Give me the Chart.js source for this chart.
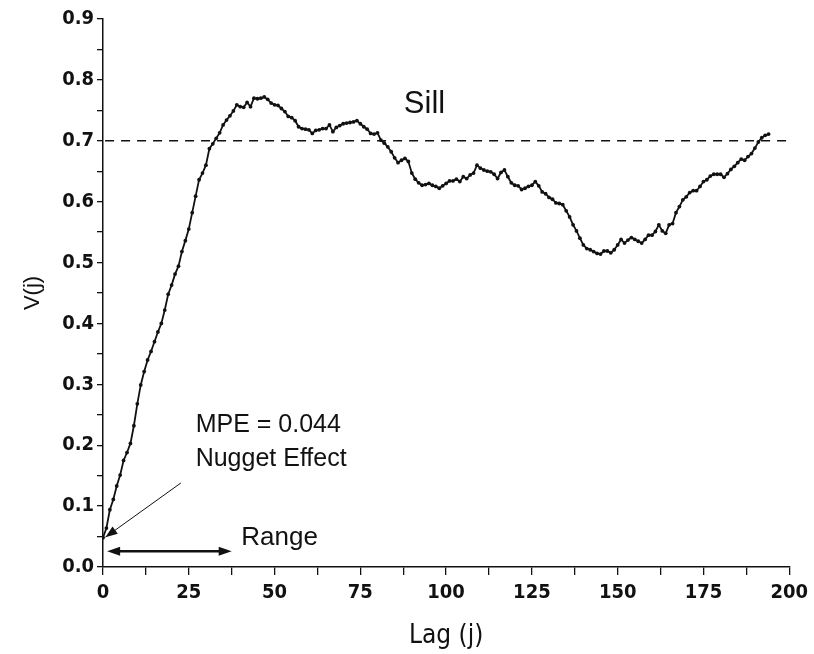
<!DOCTYPE html>
<html>
<head>
<meta charset="utf-8">
<script src="https://cdn.jsdelivr.net/npm/chart.js@4"></script>
<style>
  body { margin: 0; background: #fff; }
  #wrap { width: 814px; height: 654px; }
</style>
</head>
<body>
<div id="wrap"><canvas id="vario" width="814" height="654"></canvas></div>
<script>
// variogram V(j), one value per lag j = 0, 1, 2, ...
const variogram = [
  0.048, 0.064, 0.094, 0.111, 0.133, 0.151, 0.175, 0.188, 0.203, 0.232,
  0.268, 0.299, 0.321, 0.340, 0.354, 0.370, 0.386, 0.400, 0.422, 0.448,
  0.463, 0.481, 0.494, 0.518, 0.536, 0.555, 0.582, 0.609, 0.636, 0.647,
  0.660, 0.687, 0.695, 0.704, 0.713, 0.726, 0.734, 0.741, 0.749, 0.759,
  0.756, 0.755, 0.763, 0.756, 0.770, 0.769, 0.770, 0.772, 0.768, 0.762,
  0.759, 0.758, 0.753, 0.748, 0.740, 0.738, 0.733, 0.723, 0.720, 0.719,
  0.718, 0.712, 0.717, 0.718, 0.720, 0.720, 0.726, 0.715, 0.722, 0.725,
  0.728, 0.729, 0.730, 0.731, 0.733, 0.728, 0.723, 0.719, 0.712, 0.711,
  0.713, 0.701, 0.696, 0.690, 0.682, 0.672, 0.664, 0.668, 0.671, 0.666,
  0.647, 0.637, 0.631, 0.627, 0.628, 0.630, 0.627, 0.625, 0.622, 0.626,
  0.630, 0.634, 0.634, 0.637, 0.633, 0.641, 0.638, 0.644, 0.647, 0.660,
  0.655, 0.652, 0.650, 0.649, 0.645, 0.638, 0.648, 0.652, 0.641, 0.631,
  0.627, 0.626, 0.620, 0.622, 0.625, 0.627, 0.633, 0.626, 0.616, 0.613,
  0.607, 0.604, 0.598, 0.597, 0.595, 0.585, 0.575, 0.562, 0.552, 0.540,
  0.529, 0.523, 0.521, 0.518, 0.515, 0.514, 0.519, 0.519, 0.516, 0.521,
  0.529, 0.538, 0.532, 0.537, 0.541, 0.538, 0.535, 0.532, 0.538, 0.545,
  0.545, 0.551, 0.562, 0.552, 0.548, 0.562, 0.564, 0.582, 0.592, 0.603,
  0.608, 0.615, 0.618, 0.618, 0.625, 0.633, 0.636, 0.642, 0.645, 0.645,
  0.645, 0.640, 0.646, 0.653, 0.658, 0.664, 0.670, 0.668, 0.674, 0.679,
  0.688, 0.698, 0.705, 0.709, 0.711
];
const lags = variogram.map((_, j) => j);

const sillValue = 0.7;
const sillSpan = [0.6, 200];
const nuggetArrow = [[22.7, 0.138], [0.7, 0.049]];
const rangeArrow = [[1.2, 0.026], [37.5, 0.026]];

const xTickLabels = [0, 25, 50, 75, 100, 125, 150, 175, 200];
const yTickLabels = ['0.0', '0.1', '0.2', '0.3', '0.4', '0.5', '0.6', '0.7', '0.8', '0.9'];

const narrow = '"DejaVu Sans Condensed", "Liberation Sans", Arial, sans-serif';
const tickFont = { family: narrow, size: 20, weight: 'bold' };

function arrowHead(ctx, x1, y1, x2, y2, len, half) {
  const a = Math.atan2(y2 - y1, x2 - x1);
  ctx.beginPath();
  ctx.moveTo(x2, y2);
  ctx.lineTo(x2 - len * Math.cos(a) + half * Math.sin(a), y2 - len * Math.sin(a) - half * Math.cos(a));
  ctx.lineTo(x2 - len * Math.cos(a) - half * Math.sin(a), y2 - len * Math.sin(a) + half * Math.cos(a));
  ctx.closePath();
  ctx.fill();
}

const notes = {
  id: 'notes',
  afterDatasetsDraw(chart) {
    const { ctx, scales: { x, y } } = chart;
    const px = v => x.getPixelForValue(v);
    const py = v => y.getPixelForValue(v);
    ctx.save();
    ctx.fillStyle = '#111';
    ctx.strokeStyle = '#111';

    // nugget arrow
    const [n0, n1] = nuggetArrow;
    ctx.lineWidth = 1;
    ctx.beginPath();
    ctx.moveTo(px(n0[0]), py(n0[1]));
    ctx.lineTo(px(n1[0]), py(n1[1]));
    ctx.stroke();
    arrowHead(ctx, px(n0[0]), py(n0[1]), px(n1[0]), py(n1[1]), 12, 4.5);

    // range arrow, both ends
    const [r0, r1] = rangeArrow;
    ctx.lineWidth = 2.5;
    ctx.beginPath();
    ctx.moveTo(px(r0[0]) + 8, py(r0[1]));
    ctx.lineTo(px(r1[0]) - 8, py(r1[1]));
    ctx.stroke();
    arrowHead(ctx, px(r1[0]), py(r1[1]), px(r0[0]), py(r0[1]), 13, 4.5);
    arrowHead(ctx, px(r0[0]), py(r0[1]), px(r1[0]), py(r1[1]), 13, 4.5);

    ctx.font = '31px "Liberation Sans", Arial, sans-serif';
    ctx.textBaseline = 'middle';
    ctx.textAlign = 'center';
    ctx.fillText('Sill', px(93.7), py(0.760));
    ctx.font = '25px "Liberation Sans", Arial, sans-serif';
    ctx.textAlign = 'left';
    ctx.fillText('MPE = 0.044', px(27), py(0.233));
    ctx.fillText('Nugget Effect', px(27), py(0.178));
    ctx.font = '26px "Liberation Sans", Arial, sans-serif';
    ctx.fillText('Range', px(40.3), py(0.048));
    ctx.restore();
  }
};

new Chart(document.getElementById('vario').getContext('2d'), {
  type: 'line',
  data: {
    labels: lags,
    datasets: [
      {
        label: 'V(j)',
        data: lags.map((j, i) => ({ x: j, y: variogram[i] })),
        borderColor: '#111',
        borderWidth: 1.8,
        pointRadius: 1.9,
        pointBackgroundColor: '#111',
        pointBorderWidth: 0,
        tension: 0,
      },
      {
        label: 'Sill',
        data: sillSpan.map(v => ({ x: v, y: sillValue })),
        borderColor: '#111',
        borderWidth: 1.5,
        borderDash: [9, 7],
        pointRadius: 0,
      },
    ],
  },
  options: {
    responsive: false,
    animation: false,
    layout: { padding: { top: 19, right: 24, left: 0, bottom: 0 } },
    scales: {
      x: {
        type: 'linear',
        min: 0,
        max: 200,
        afterFit: s => { s.height = 87; },
        border: { display: true, color: '#111', width: 1.5 },
        grid: { drawOnChartArea: false, tickLength: 8, color: '#111', lineWidth: 1.3 },
        ticks: {
          stepSize: 12.5,
          autoSkip: false,
          maxRotation: 0,
          padding: 6,
          color: '#111',
          font: tickFont,
          callback: v => (xTickLabels.includes(v) ? String(v) : ''),
        },
        title: {
          display: true,
          text: 'Lag (j)',
          color: '#111',
          font: { family: narrow, size: 26 },
          padding: { top: 0, bottom: 2 },
        },
      },
      y: {
        min: 0,
        max: 0.9,
        afterFit: s => { s.width = 103; },
        border: { display: true, color: '#111', width: 1.5 },
        grid: { drawOnChartArea: false, tickLength: 6, color: '#111', lineWidth: 1.3 },
        ticks: {
          stepSize: 0.05,
          autoSkip: false,
          padding: 3,
          color: '#111',
          font: tickFont,
          callback: v => {
            const k = Math.round(v * 20);
            return k % 2 === 0 ? yTickLabels[k / 2] : '';
          },
        },
        title: {
          display: true,
          text: 'V(j)',
          color: '#111',
          font: { family: '"Liberation Sans", Arial, sans-serif', size: 22 },
          padding: { top: 20, bottom: 0 },
        },
      },
    },
    plugins: {
      legend: { display: false },
      tooltip: { enabled: false },
    },
  },
  plugins: [notes],
});
</script>
</body>
</html>
